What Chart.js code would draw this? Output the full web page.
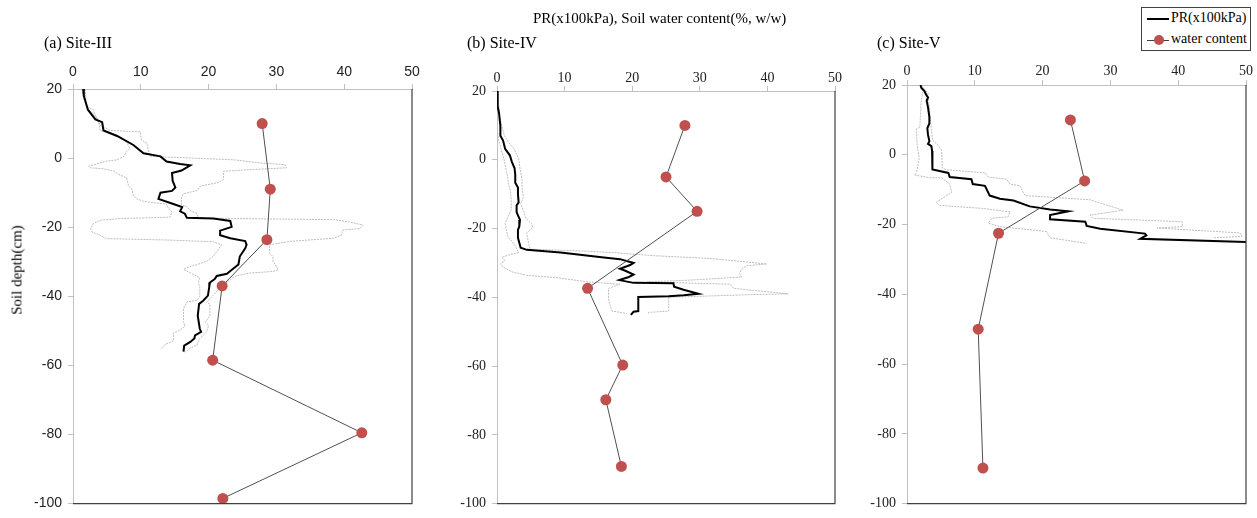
<!DOCTYPE html>
<html>
<head>
<meta charset="utf-8">
<script src="https://cdn.jsdelivr.net/npm/chart.js@4.4.1/dist/chart.umd.min.js"></script>
<style>
  html, body { margin:0; padding:0; background:#fff; }
  #wrap { position:relative; width:1257px; height:518px; overflow:hidden; font-family:"Liberation Serif","Times New Roman",serif; color:#000; }
  canvas { position:absolute; left:0; top:0; }
  .txt { position:absolute; white-space:nowrap; }
  #legend { position:absolute; left:1141px; top:7px; width:108px; height:42px; border:1px solid #404040; background:#fff; font-size:14px; }
  .litem { position:absolute; left:5px; height:20px; width:104px; }
  .lline { position:absolute; left:0; top:10px; width:22px; height:0; }
  .ldot { position:absolute; left:7px; top:5px; width:10px; height:10px; border-radius:50%; background:#c0504d; }
  .ltext { position:absolute; left:24px; top:1px; }
</style>
</head>
<body>
<div id="wrap">
  <canvas id="cA" width="1257" height="518"></canvas>
  <canvas id="cB" width="1257" height="518"></canvas>
  <canvas id="cC" width="1257" height="518"></canvas>
  <div class="txt" style="left:533px;top:10px;font-size:15px;">PR(x100kPa), Soil water content(%, w/w)</div>
  <div class="txt" style="left:44px;top:34px;font-size:16px;">(a) Site-III</div>
  <div class="txt" style="left:467px;top:34px;font-size:16px;">(b) Site-IV</div>
  <div class="txt" style="left:877px;top:34px;font-size:16px;">(c) Site-V</div>
  <div class="txt" style="left:17px;top:270px;font-size:15px;transform:translate(-50%,-50%) rotate(-90deg);">Soil depth(cm)</div>
  <div id="legend">
    <div class="litem" style="top:1px;"><div class="lline" style="border-top:2px solid #000;top:9px;"></div><div class="ltext">PR(x100kPa)</div></div>
    <div class="litem" style="top:22px;"><div class="lline" style="border-top:1px solid #404040;"></div><div class="ldot"></div><div class="ltext">water content</div></div>
  </div>
</div>
<script>
// ---------- Data (x = value, y = soil depth cm) ----------
const xTicks = [0, 10, 20, 30, 40, 50];
const yTicks = [20, 0, -20, -40, -60, -80, -100];

// Site-III
const waterA = [[27.9,10],[29.1,-9],[28.6,-23.6],[22.0,-37],[20.6,-58.5],[42.6,-79.5],[22.1,-98.5]];
const prA = [[1.5,20],[1.6,18],[2.2,14],[3.3,11.2],[4.3,10.4],[4.5,8],[6.5,6.4],[8.9,3.8],[10.4,1.4],[12.9,0.5],[13.8,-1],[15.8,-1.7],[17.3,-2.1],[16.0,-3.6],[14.6,-4.3],[14.7,-6.6],[15.1,-8.5],[14.6,-9.5],[12.9,-10],[12.6,-11.8],[14.8,-13.3],[16.1,-14.2],[15.8,-15.4],[16.5,-16.1],[16.8,-17.3],[20.7,-17.5],[23.2,-18.2],[23.4,-19.9],[21.7,-21],[21.7,-22.3],[23.2,-23.2],[25.4,-24],[25.6,-25.1],[25.4,-26.1],[24.6,-28.5],[24.4,-30.8],[23.2,-32.7],[22.7,-33.5],[21.2,-34.1],[20.9,-35],[20.2,-36],[20.1,-37.2],[19.9,-39.8],[19.2,-41.3],[18.6,-42.2],[18.4,-45.6],[18.7,-49.4],[18.9,-50.3],[18.0,-51.3],[17.9,-52.2],[17.3,-53.2],[16.4,-54.3],[16.3,-56]];
const maxA = [[1.8,20],[2.0,15],[3.0,14],[3.5,11.2],[4.0,9.5],[5.5,8],[9.9,7.6],[10.1,5.2],[10.9,4.3],[11.1,2.4],[11.4,0.5],[23.7,-0.5],[27.6,-1.4],[31.3,-1.9],[31.5,-2.8],[26.6,-3.3],[22.2,-3.8],[22.2,-6.2],[21.4,-7.1],[18.8,-8.1],[18.3,-9.4],[16.3,-10.3],[16.0,-11.5],[16.0,-13.4],[16.8,-14.1],[17.3,-15.2],[18.3,-16.1],[18.5,-17.3],[23.7,-17.5],[38.4,-17.8],[40.8,-18.5],[42.8,-19.4],[42.3,-20.4],[39.8,-20.8],[39.6,-22.3],[38.4,-23.2],[32.0,-24.1],[29.0,-25.1],[29.0,-27.5],[29.5,-28.5],[29.5,-29.9],[30.3,-32.3],[29.5,-32.8],[25.9,-33.3],[23.9,-34.2],[23.2,-35.2],[21.9,-37.1],[19.7,-41.8],[20.2,-42.3],[20.2,-45.6],[19.5,-47.5],[20.0,-48.4],[19.7,-50.3],[18.7,-52.2],[18.3,-54.1],[17.3,-55.0],[16.5,-56.3]];
const minA = [[1.3,20],[1.6,17],[2.3,14],[3.3,12.3],[3.8,10.8],[4.0,8],[5.7,7.1],[7.0,6.2],[7.9,4.7],[8.4,2.8],[7.9,1.9],[7.5,0.5],[6.5,-0.5],[4.9,-0.9],[3.5,-1.7],[2.3,-2.4],[2.6,-2.8],[4.5,-3.1],[6.0,-3.8],[6.7,-4.7],[7.9,-5.7],[8.2,-8.1],[8.7,-9.0],[8.9,-10.9],[9.4,-11.8],[10.4,-12.5],[11.4,-12.8],[13.8,-13.3],[14.1,-14.7],[14.6,-15.6],[14.3,-17.1],[7.0,-17.5],[4.0,-18.0],[3.0,-19.0],[2.6,-20.4],[2.8,-21.4],[4.0,-22.3],[4.9,-23.3],[13.8,-23.7],[20.7,-24.2],[21.9,-25.1],[21.4,-26.5],[20.7,-28.4],[19.7,-29.9],[18.3,-30.8],[16.8,-31.7],[16.3,-32.2],[17.7,-33.6],[18.7,-34.6],[18.5,-36],[18.7,-37.4],[18.7,-39.8],[18.3,-41.2],[16.8,-41.6],[16.3,-43.5],[16.3,-47.3],[16.5,-48.7],[15.6,-50],[14.8,-50.6],[14.8,-53],[13.6,-53.9],[12.9,-55.3]];

// Site-IV
const waterB = [[27.8,10],[25.0,-5],[29.6,-15],[13.4,-37.4],[18.6,-59.7],[16.1,-69.8],[18.4,-89.2]];
const prB = [[0,20],[0.1,15.5],[0.3,13.6],[0.5,9.8],[0.5,7],[0.9,5.6],[1.2,3.2],[1.9,1.3],[2.2,-0.6],[2.6,-2.5],[2.7,-4.3],[2.7,-6.7],[3.1,-8.1],[3.1,-10],[3.2,-12.4],[2.9,-13.3],[2.9,-15.2],[3.2,-16.6],[3.4,-17.5],[3.3,-19.4],[3.1,-20.4],[3.1,-22.7],[3.5,-25.6],[4.4,-26.2],[9.4,-27],[15.8,-28.4],[18.2,-28.9],[20.2,-30],[19.7,-30.6],[18.2,-31.7],[18.9,-32.2],[20.2,-33.4],[19.5,-34.1],[18.1,-35],[20.2,-35.8],[26.1,-35.9],[26.2,-36.9],[27.6,-37.8],[29.8,-39],[27.6,-39.4],[25.4,-39.7],[20.9,-39.9],[20.9,-44],[20.2,-44.2],[19.8,-45.1]];
const maxB = [[0.1,20],[0.4,12.6],[0.7,9.8],[1.1,7],[1.7,5.1],[2.5,3.2],[3.2,0.4],[3.4,-2.5],[3.7,-5.8],[3.7,-8.1],[3.9,-10.9],[3.5,-12.8],[3.9,-14.7],[4.3,-17.1],[5.3,-19],[5.2,-19.9],[4.4,-21.3],[4.7,-24.6],[4.9,-26],[12.3,-26.5],[17.2,-27],[23.2,-27.9],[31.5,-28.7],[39.9,-30.3],[37.0,-30.8],[36.2,-31.7],[35.9,-33.1],[36.2,-34.1],[28.6,-35],[22.2,-35.5],[34.5,-36.2],[35.0,-37.4],[43.1,-39],[37.9,-39.2],[25.4,-40],[25.4,-44],[22.4,-44.4],[22.4,-44.9]];
const minB = [[0,20],[0,9.8],[0.2,6],[0.6,3.2],[1.0,0.4],[1.4,-3.4],[1.6,-5.3],[1.7,-7.2],[2.0,-9.1],[2.1,-11.9],[2.1,-14.7],[1.6,-16.6],[1.2,-18.5],[1.4,-20.4],[1.6,-22.3],[2.2,-23.7],[2.7,-25.1],[3.2,-27],[1.7,-27.7],[0.7,-28.4],[1.2,-29.3],[0.5,-30.3],[0.9,-31.2],[2.2,-32.6],[4.4,-33.6],[8.9,-34.3],[13.3,-35.5],[18.2,-36.2],[16.5,-37.4],[16.5,-40.7],[16.7,-42.1],[17.0,-44],[19.2,-44.7]];

// Site-V
const waterC = [[24.1,10],[26.2,-7.5],[13.5,-22.5],[10.5,-50],[11.2,-89.8]];
const prC = [[2.0,20],[2.1,19.2],[2.6,18.2],[2.8,17.3],[3.1,16.4],[2.9,15.5],[3.1,13.6],[3.3,10.8],[3.3,9],[3.0,7.6],[3.1,5.7],[3.3,3.9],[3.1,3.1],[3.6,2.5],[3.7,1.1],[3.7,-0.7],[3.8,-4.2],[6.1,-5.2],[6.3,-6.4],[9.5,-7.0],[9.7,-8.4],[11.5,-8.9],[12.2,-11.7],[13.7,-12.6],[15.7,-13.1],[18.1,-14.8],[21.1,-15.7],[23.8,-16.2],[21.1,-17.3],[21.1,-18.5],[26.3,-19.2],[26.5,-20.4],[28.5,-21.2],[35.1,-22.6],[35.3,-23.1],[34.4,-24.1],[52.0,-25.1]];
const maxC = [[2.2,19.7],[3.1,17.7],[3.35,12.1],[3.6,6.9],[3.8,4.1],[4.6,2.7],[5.1,1.3],[5.2,-3.8],[5.8,-4.3],[11.5,-5.2],[12.0,-6.4],[14.7,-7.0],[15.2,-8.4],[16.65,-8.9],[17.4,-11.7],[27.0,-12.9],[30.4,-15],[31.9,-15.9],[27.0,-17.3],[27.5,-18.2],[40.6,-19.2],[40.6,-20.6],[36.9,-21.0],[49.1,-22.4],[49.4,-23.4],[45.2,-23.8]];
const minC = [[2.1,19.7],[2.4,18.1],[2.1,15.8],[2.0,12.1],[1.9,7.9],[1.4,7.4],[1.5,2.7],[1.8,-1.0],[1.4,-5.2],[1.1,-5.8],[3.4,-6.6],[5.1,-6.6],[6.3,-8.4],[6.6,-10.8],[4.3,-13.6],[4.8,-14.5],[11.2,-15.4],[15.2,-16.4],[14.9,-17.8],[12.5,-18.2],[12.0,-19.6],[13.7,-20.6],[20.6,-22],[21.1,-23.8],[26.5,-25.4]];

// ---------- Helpers ----------
const toXY = arr => arr.map(p => ({x: p[0], y: p[1]}));

const frame = {
  id: 'frame',
  afterDatasetsDraw(chart) {
    const a = chart.chartArea, c = chart.ctx;
    c.save();
    c.strokeStyle = '#404040';
    c.lineWidth = 1.2;
    c.beginPath();
    c.moveTo(a.right, a.top);
    c.lineTo(a.right, a.bottom);
    c.lineTo(a.left, a.bottom);
    c.stroke();
    c.restore();
  }
};

function makePanel(id, geo, water, pr, mx, mn, font, xPad) {
  const yW = 40, xH = 30;
  const tickFont = {family: font, size: 14};
  new Chart(document.getElementById(id), {
    type: 'scatter',
    data: {
      datasets: [
        {data: toXY(water), showLine: true, borderColor: '#505050', borderWidth: 1,
         pointRadius: 5.5, pointBackgroundColor: '#c0504d', pointBorderColor: '#c0504d', pointBorderWidth: 0},
        {data: toXY(pr), showLine: true, borderColor: '#000', borderWidth: 2, pointRadius: 0},
        {data: toXY(mx), showLine: true, borderColor: '#bdbdbd', borderWidth: 1, borderDash: [2, 1], pointRadius: 0},
        {data: toXY(mn), showLine: true, borderColor: '#bdbdbd', borderWidth: 1, borderDash: [2, 1], pointRadius: 0}
      ]
    },
    options: {
      responsive: false, animation: false, devicePixelRatio: 1,
      layout: {autoPadding: false, padding: {left: geo.l - yW, top: geo.t - xH, right: 1257 - geo.r, bottom: 518 - geo.b}},
      plugins: {legend: {display: false}, tooltip: {enabled: false}},
      scales: {
        x: {
          type: 'linear', position: 'top', min: 0, max: 50,
          afterFit(s) { s.height = xH; },
          afterBuildTicks(s) { s.ticks = xTicks.map(v => ({value: v})); },
          grid: {drawOnChartArea: false, drawTicks: true, tickLength: 5, color: '#c0c0c0'},
          border: {display: true, color: '#c0c0c0', width: 1},
          ticks: {font: tickFont, color: '#222', padding: xPad, maxRotation: 0}
        },
        y: {
          type: 'linear', position: 'left', min: -100, max: 20,
          afterFit(s) { s.width = yW; },
          afterBuildTicks(s) { s.ticks = yTicks.map(v => ({value: v})); },
          grid: {drawOnChartArea: false, drawTicks: true, tickLength: 5, color: '#c0c0c0'},
          border: {display: true, color: '#c0c0c0', width: 1},
          ticks: {font: tickFont, color: '#222', padding: 6}
        }
      }
    },
    plugins: [frame]
  });
}

makePanel('cA', {l: 73, t: 89, r: 412, b: 512}, waterA, prA, maxA, minA, '"Liberation Sans Narrow","Liberation Sans",sans-serif', 3);
makePanel('cB', {l: 497, t: 91, r: 835, b: 515}, waterB, prB, maxB, minB, '"Liberation Serif","Times New Roman",serif', -1);
makePanel('cC', {l: 907, t: 85, r: 1246, b: 514}, waterC, prC, maxC, minC, '"Liberation Serif","Times New Roman",serif', 0);
</script>
</body>
</html>
